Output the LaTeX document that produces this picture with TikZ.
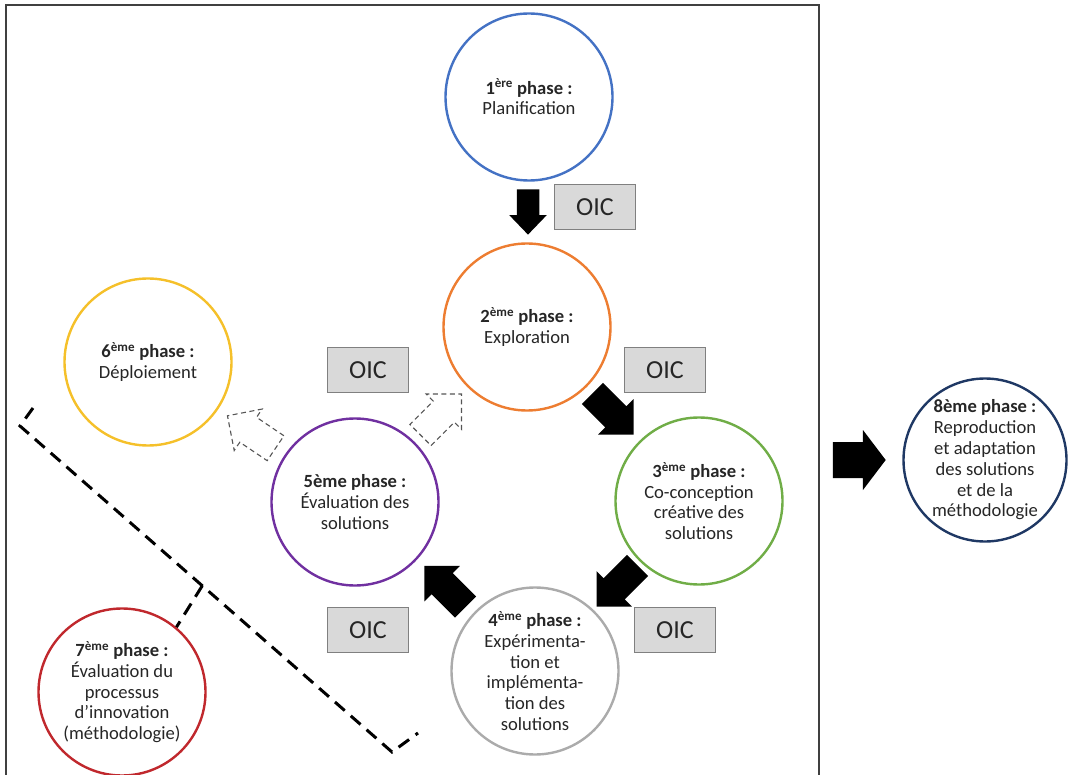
\documentclass[tikz,border=0pt]{standalone}
\usepackage{fontspec}
\setmainfont{Carlito}
\usetikzlibrary{calc}

\definecolor{phaseblue}{HTML}{4472C4}
\definecolor{phaseorange}{HTML}{ED7D31}
\definecolor{phasegreen}{HTML}{70AD47}
\definecolor{phasegray}{HTML}{ABABAB}
\definecolor{phasepurple}{HTML}{7030A0}
\definecolor{phaseyellow}{HTML}{F5C02A}
\definecolor{phasered}{HTML}{C0282D}
\definecolor{phasenavy}{HTML}{1F3864}
\definecolor{textgray}{HTML}{262626}
\definecolor{boxfill}{HTML}{D9D9D9}
\definecolor{boxline}{HTML}{808080}
\definecolor{dashgray}{HTML}{555555}
\definecolor{framegray}{HTML}{404040}

\begin{document}
\begin{tikzpicture}[x=1pt,y=1pt,
  phase/.style={circle,draw,line width=2.4pt,minimum size=167pt,inner sep=0pt,
    align=center,text=textgray,font=\fontsize{18.6}{20.8}\selectfont},
  oic/.style={draw=boxline,fill=boxfill,line width=1.2pt,minimum width=81pt,
    minimum height=45pt,inner sep=0pt,text=textgray,font=\fontsize{26}{26}\selectfont},
  blockarr/.pic={\path[pic actions] (-29,-15) -- (4,-15) -- (4,-25) -- (29,0)
    -- (4,25) -- (4,15) -- (-29,15) -- cycle;},
  ghost/.style={draw=dashgray,line width=1.1pt,dash pattern=on 5pt off 3.5pt},
  brace/.style={line width=3pt,dash pattern=on 13pt off 8pt}]

\useasboundingbox (0,0) rectangle (1068,-775);

% cadre
\draw[framegray,line width=1.5pt] (6,-790) -- (6,-5) -- (819,-5) -- (819,-790);

% phases
\node[phase,draw=phaseblue] (c1) at (529,-97) {\textbf{1\textsuperscript{ère} phase :}\\Planification};
\node[phase,draw=phaseorange] (c2) at (527,-327) {\textbf{2\textsuperscript{ème} phase :}\\Exploration};
\node[phase,draw=phasegreen] (c3) at (699,-501) {\textbf{3\textsuperscript{ème} phase :}\\Co-conception\\créative des\\solutions};
\node[phase,draw=phasegray] (c4) at (535,-671) {\textbf{4\textsuperscript{ème} phase :}\\Expérimenta-\\tion et\\implémenta-\\tion des\\solutions};
\node[phase,draw=phasepurple] (c5) at (355,-502) {\textbf{5ème phase :}\\Évaluation des\\solutions};
\node[phase,draw=phaseyellow] (c6) at (148,-362) {\textbf{6\textsuperscript{ème} phase :}\\Déploiement};
\node[phase,draw=phasered] (c7) at (122,-692) {\textbf{7\textsuperscript{ème} phase :}\\Évaluation du\\processus\\d’innovation\\(méthodologie)};
\node[phase,draw=phasenavy,minimum size=163pt] (c8) at (985,-460) {\textbf{8ème phase :}\\Reproduction\\et adaptation\\des solutions\\et de la\\méthodologie};

% OIC
\node[oic] (o1) at (595,-207) {OIC};
\node[oic] (o2) at (665,-370) {OIC};
\node[oic] (o3) at (675,-630) {OIC};
\node[oic] (o4) at (368,-630) {OIC};
\node[oic] (o5) at (368,-370) {OIC};

% flèches pleines
\pic[fill=black,rotate=-90,xscale=0.78,yscale=0.75] at ($(c1)!0.5!(c2)$) {blockarr};
\pic[fill=black,rotate=-45] at ($(c2)!0.5!(c3)$) {blockarr};
\pic[fill=black,rotate=-135] at ($(c3)!0.5!(c4)$) {blockarr};
\pic[fill=black,rotate=135] at ($(c4)!0.5!(c5)$) {blockarr};
\pic[fill=black,xscale=0.91,yscale=1.2] at ($(c8.west)+(-43,0)$) {blockarr};

% flèches en pointillés
\pic[ghost,rotate=45] at ($(c5)!0.5!(c2)$) {blockarr};
\pic[ghost,rotate=146] at ($(c5)!0.5!(c6)$) {blockarr};

% accolade vers la 7e phase
\coordinate (b1) at (20,-426);
\coordinate (b2) at (392,-752);
\draw[brace] (33,-408) -- (b1) -- (b2) -- (418,-733);
\draw[brace] ($(b1)!0.49!(b2)$) -- (c7.50);
\end{tikzpicture}
\end{document}
